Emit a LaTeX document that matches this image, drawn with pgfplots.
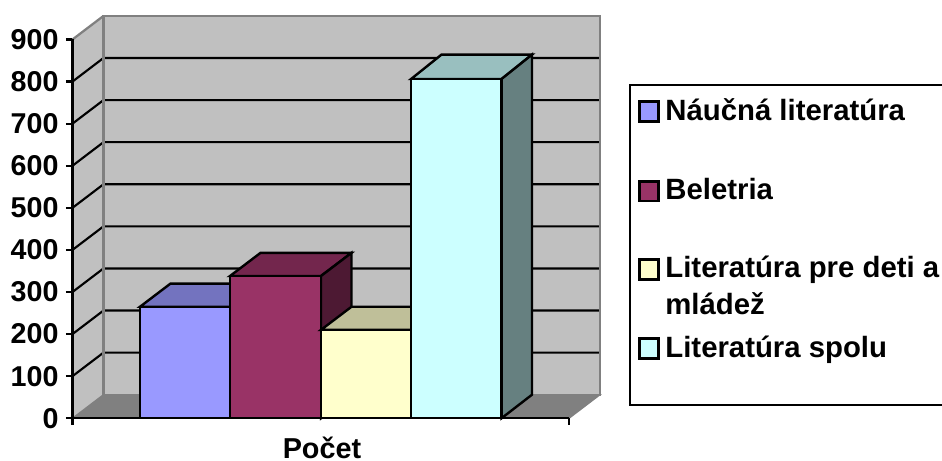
\documentclass[border=0pt]{standalone}
\usepackage{fontspec}
\setmainfont{Liberation Sans}
\usepackage{pgfplots}
\pgfplotsset{compat=1.18}
\definecolor{wall}{HTML}{C0C0C0}
\definecolor{edge}{HTML}{808080}
\definecolor{cA}{HTML}{9999FF}\definecolor{cAt}{HTML}{7373BF}
\definecolor{cB}{HTML}{993366}\definecolor{cBt}{HTML}{73264D}\definecolor{cBs}{HTML}{4D1933}
\definecolor{cC}{HTML}{FFFFCC}\definecolor{cCt}{HTML}{BFBF99}
\definecolor{cD}{HTML}{CCFFFF}\definecolor{cDt}{HTML}{99BFBF}\definecolor{cDs}{HTML}{668080}
\begin{document}
\begin{tikzpicture}
\begin{axis}[
  scale only axis, width=372.375pt, height=284.1pt,
  xmin=72.5, xmax=569, ymin=0, ymax=900,
  clip=false, axis on top=true,
  axis lines=left, axis line style={-, line width=1.8pt, black},
  xtick={72.5,569}, xticklabels={},
  ytick={0,100,200,300,400,500,600,700,800,900},
  tick align=outside, tick pos=left,
  major tick length=5pt,
  tick style={black, line width=1.6pt},
  /pgf/number format/assume math mode=true,
  yticklabel style={font=\bfseries\fontsize{21.5}{21.5}\selectfont, xshift=-2pt},
  xlabel={Počet},
  every axis x label/.style={at={(axis cs:322,-70)}, anchor=center, inner sep=0pt, font=\bfseries\fontsize{21.6}{21.6}\selectfont},
  legend style={draw=none, fill=none, inner sep=0pt, at={(axis cs:638,766)}, anchor=north west,
    row sep=38pt, font=\bfseries\fontsize{22}{22}\selectfont},
  legend cell align=left,
  legend image code/.code={\path[draw=none,fill=none] (0pt,0pt) -- (17.5pt,0pt);
    \draw[#1, line width=1.7pt, black] (0pt,-8pt) rectangle (14.5pt,7pt);
    \fill[#1] (0.8pt,-7.2pt) rectangle (13.7pt,6.2pt);},
]
% walls and floor
\addplot[fill=wall, draw=edge, line width=1.7pt, forget plot] coordinates {(103.5,56)(600,56)(600,956)(103.5,956)} -- cycle;
\addplot[fill=wall, draw=none, forget plot] coordinates {(72.5,0)(103.5,56)(103.5,956)(72.5,900)} -- cycle;
\addplot[draw=edge, line width=1.7pt, forget plot] coordinates {(72.5,900)(103.5,956)};
\addplot[fill=edge, draw=edge, line width=1pt, forget plot] coordinates {(72.5,0)(569,0)(600,56)(103.5,56)} -- cycle;
% gridlines
\addplot[black, line width=1.6pt, forget plot] coordinates {(72.5,100)(103.5,156)(600,156)};
\addplot[black, line width=1.6pt, forget plot] coordinates {(72.5,200)(103.5,256)(600,256)};
\addplot[black, line width=1.6pt, forget plot] coordinates {(72.5,300)(103.5,356)(600,356)};
\addplot[black, line width=1.6pt, forget plot] coordinates {(72.5,400)(103.5,456)(600,456)};
\addplot[black, line width=1.6pt, forget plot] coordinates {(72.5,500)(103.5,556)(600,556)};
\addplot[black, line width=1.6pt, forget plot] coordinates {(72.5,600)(103.5,656)(600,656)};
\addplot[black, line width=1.6pt, forget plot] coordinates {(72.5,700)(103.5,756)(600,756)};
\addplot[black, line width=1.6pt, forget plot] coordinates {(72.5,800)(103.5,856)(600,856)};
% wall edge over the gridline ends
\addplot[edge, line width=1.7pt, forget plot] coordinates {(103.5,56)(103.5,956)};
\addplot[edge, line width=1.7pt, forget plot] coordinates {(600,56)(600,956)};
% blue bar
\addplot[fill=cAt, draw=black, line width=1.8pt, forget plot] coordinates {(140,265)(230,265)(260.5,320)(170.5,320)} -- cycle;
\addplot[fill=cA, draw=black, line width=1.8pt, forget plot] coordinates {(140,0)(230,0)(230,265)(140,265)} -- cycle;
% maroon bar
\addplot[fill=cBt, draw=black, line width=1.8pt, forget plot] coordinates {(230,338)(321,338)(351.5,393)(260.5,393)} -- cycle;
\addplot[fill=cBs, draw=black, line width=1.8pt, forget plot] coordinates {(321,0)(351.5,55)(351.5,393)(321,338)} -- cycle;
\addplot[fill=cB, draw=black, line width=1.8pt, forget plot] coordinates {(230,0)(321,0)(321,338)(230,338)} -- cycle;
% yellow bar
\addplot[fill=cCt, draw=black, line width=1.8pt, forget plot] coordinates {(321,210)(411,210)(441.5,265)(351.5,265)} -- cycle;
\addplot[fill=cC, draw=black, line width=1.8pt, forget plot] coordinates {(321,0)(411,0)(411,210)(321,210)} -- cycle;
% cyan bar
\addplot[fill=cDt, draw=black, line width=1.8pt, forget plot] coordinates {(411,806)(501.5,806)(532,864)(441.5,864)} -- cycle;
\addplot[fill=cDs, draw=black, line width=1.8pt, forget plot] coordinates {(501.5,0)(532,56)(532,864)(501.5,806)} -- cycle;
\addplot[fill=cD, draw=black, line width=1.8pt, forget plot] coordinates {(411,0)(501.5,0)(501.5,806)(411,806)} -- cycle;
% legend frame (open on the right, as cut by the picture edge)
\draw[black, line width=1.8pt] (axis cs:942,792) -- (axis cs:630,792) -- (axis cs:630,31.5) -- (axis cs:942,31.5);
\addlegendimage{fill=cA}
\addlegendentry{Náučná literatúra}
\addlegendimage{fill=cB}
\addlegendentry{Beletria}
\addlegendimage{fill=cC}
\addlegendentry{\raisebox{0pt}[15pt][0pt]{\parbox[t]{230pt}{\baselineskip=27.5pt Literatúra pre deti a\\mládež}}}
\addlegendimage{fill=cD}
\addlegendentry{Literatúra spolu}
\coordinate (bl) at (axis cs:0,-101.4);
\coordinate (tr) at (axis cs:942,993.8);
\end{axis}
\pgfresetboundingbox
\path[use as bounding box] (bl) rectangle (tr);
\end{tikzpicture}
\end{document}
